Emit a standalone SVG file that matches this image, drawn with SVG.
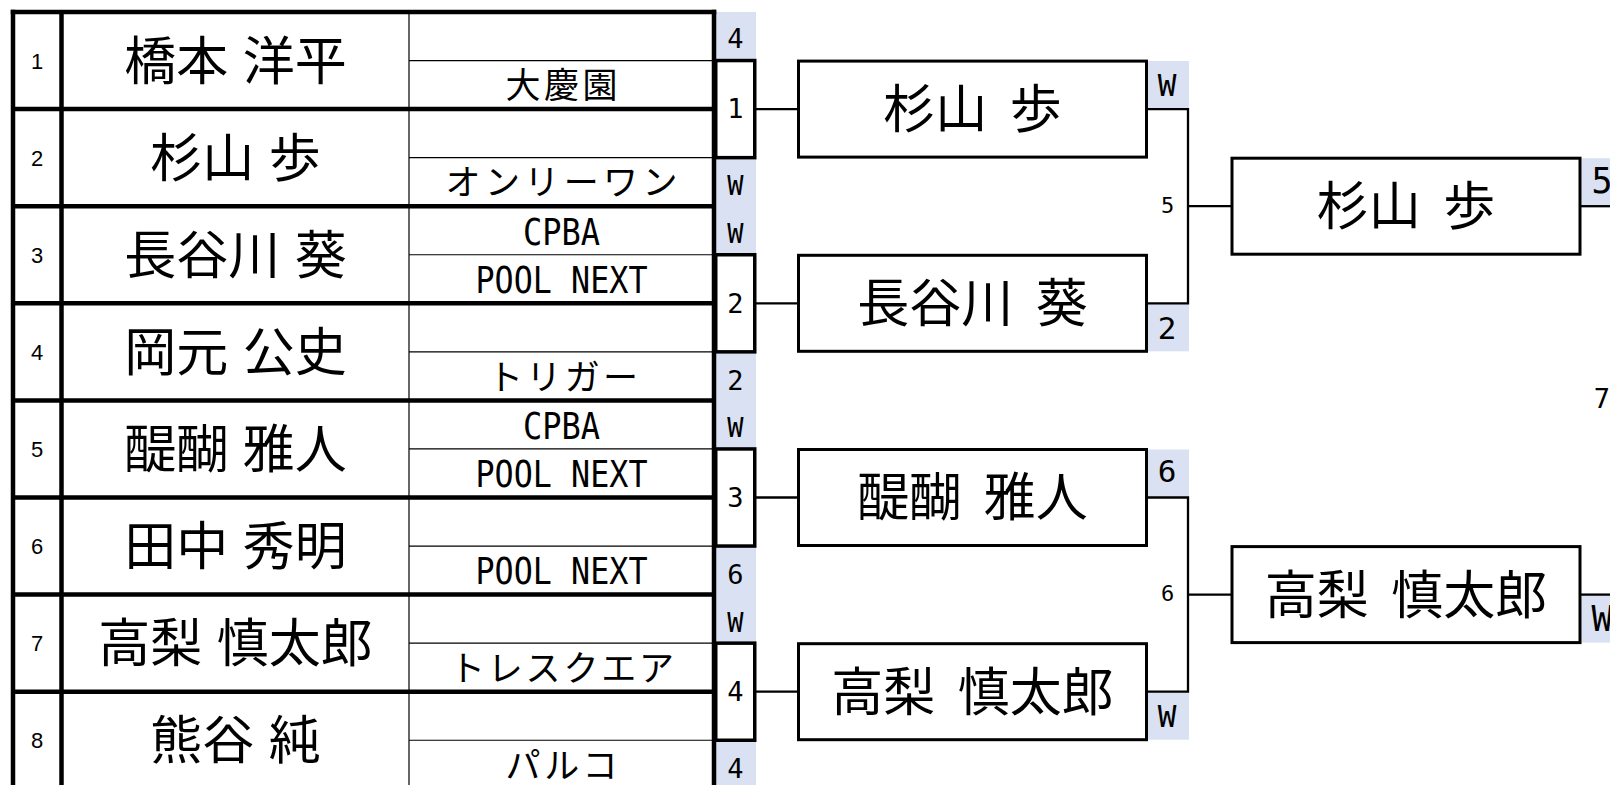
<svg xmlns="http://www.w3.org/2000/svg" width="1610" height="785" viewBox="0 0 1610 785">
<style>
.bg{fill:#ffffff}
.blue{fill:#D9E1F2;stroke:none}
.thick{stroke:#000;stroke-width:4.5;fill:none}
.thin{stroke:#000;stroke-width:1.2;fill:none}
.sbox{fill:#fff;stroke:#000;stroke-width:3.5}
.mbox{fill:#fff;stroke:#000;stroke-width:3}
.conn{stroke:#000;stroke-width:2.3;fill:none}
.num{font-family:"Liberation Sans",Arial,sans-serif;font-size:22px;fill:#000;text-anchor:middle}
.name{font-family:"Noto Sans CJK JP","Noto Sans CJK SC",sans-serif;font-size:52px;fill:#000;text-anchor:middle;word-spacing:3px}
.mname{font-family:"Noto Sans CJK JP","Noto Sans CJK SC",sans-serif;font-size:52px;fill:#000;text-anchor:middle;word-spacing:11px}
.tj{font-family:"Noto Sans CJK JP","Noto Sans CJK SC",sans-serif;font-size:35px;fill:#000;text-anchor:middle}
.tl{font-family:"DejaVu Sans Mono",monospace;font-size:38px;fill:#000;text-anchor:middle}
.sc{font-family:"DejaVu Sans Mono",monospace;font-size:27px;fill:#000;text-anchor:middle}
.sc2{font-family:"DejaVu Sans Mono",monospace;font-size:31px;fill:#000;text-anchor:middle}
.sc3{font-family:"DejaVu Sans Mono",monospace;font-size:35px;fill:#000;text-anchor:middle}
.lab{font-family:"DejaVu Sans Mono",monospace;font-size:22px;fill:#000;text-anchor:middle}
.lab2{font-family:"DejaVu Sans Mono",monospace;font-size:27px;fill:#000;text-anchor:middle}
</style>
<rect class="bg" x="0" y="0" width="1610" height="785"/>

<g id="score-bg">
<rect class="blue" x="716" y="12" width="40" height="48.5"/>
<rect class="blue" x="716" y="157.6" width="40" height="97.1"/>
<rect class="blue" x="716" y="351.8" width="40" height="97.1"/>
<rect class="blue" x="716" y="546" width="40" height="97.1"/>
<rect class="blue" x="716" y="740.2" width="40" height="48.6"/>
<rect class="blue" x="1148" y="61" width="41" height="48"/>
<rect class="blue" x="1148" y="303.3" width="41" height="48"/>
<rect class="blue" x="1148" y="449.5" width="41" height="48"/>
<rect class="blue" x="1148" y="691.7" width="41" height="48"/>
<rect class="blue" x="1581.5" y="158.2" width="29" height="48"/>
<rect class="blue" x="1581.5" y="594.6" width="29" height="48"/>
</g>

<g id="table">
<line class="thin" x1="409" y1="12" x2="409" y2="790"/>
<line class="thin" x1="409" y1="60.55" x2="714" y2="60.55"/>
<line class="thin" x1="409" y1="157.65" x2="714" y2="157.65"/>
<line class="thin" x1="409" y1="254.75" x2="714" y2="254.75"/>
<line class="thin" x1="409" y1="351.85" x2="714" y2="351.85"/>
<line class="thin" x1="409" y1="448.95" x2="714" y2="448.95"/>
<line class="thin" x1="409" y1="546.05" x2="714" y2="546.05"/>
<line class="thin" x1="409" y1="643.15" x2="714" y2="643.15"/>
<line class="thin" x1="409" y1="740.25" x2="714" y2="740.25"/>
<line class="thick" x1="10.75" y1="12" x2="716.25" y2="12"/>
<line class="thick" x1="13" y1="109.1" x2="714" y2="109.1"/>
<line class="thick" x1="13" y1="206.2" x2="714" y2="206.2"/>
<line class="thick" x1="13" y1="303.3" x2="714" y2="303.3"/>
<line class="thick" x1="13" y1="400.4" x2="714" y2="400.4"/>
<line class="thick" x1="13" y1="497.5" x2="714" y2="497.5"/>
<line class="thick" x1="13" y1="594.6" x2="714" y2="594.6"/>
<line class="thick" x1="13" y1="691.7" x2="714" y2="691.7"/>
<line class="thick" x1="13" y1="9.75" x2="13" y2="790"/>
<line class="thick" x1="61.5" y1="12" x2="61.5" y2="790"/>
<line class="thick" x1="714" y1="9.75" x2="714" y2="790"/>
</g>

<g id="entry-1"><text class="num" x="37" y="69">1</text><text class="name" x="235.5" y="79.5">橋本 洋平</text><text class="tj" x="561.5" y="98.2" textLength="112" lengthAdjust="spacing">大慶園</text></g>
<g id="entry-2"><text class="num" x="37" y="166">2</text><text class="name" x="235.5" y="176.6">杉山 歩</text><text class="tj" x="561.5" y="195.3" textLength="232" lengthAdjust="spacing">オンリーワン</text></g>
<g id="entry-3"><text class="num" x="37" y="263">3</text><text class="name" x="235.5" y="273.7">長谷川 葵</text><text class="tl" x="561.5" y="244.5" textLength="77" lengthAdjust="spacingAndGlyphs">CPBA</text><text class="tl" x="561.5" y="293" textLength="172" lengthAdjust="spacingAndGlyphs">POOL NEXT</text></g>
<g id="entry-4"><text class="num" x="37" y="360">4</text><text class="name" x="235.5" y="370.8">岡元 公史</text><text class="tj" x="563" y="389.5" textLength="150" lengthAdjust="spacing">トリガー</text></g>
<g id="entry-5"><text class="num" x="37" y="457">5</text><text class="name" x="235.5" y="467.9">醍醐 雅人</text><text class="tl" x="561.5" y="438.7" textLength="77" lengthAdjust="spacingAndGlyphs">CPBA</text><text class="tl" x="561.5" y="487.2" textLength="172" lengthAdjust="spacingAndGlyphs">POOL NEXT</text></g>
<g id="entry-6"><text class="num" x="37" y="554">6</text><text class="name" x="235.5" y="565">田中 秀明</text><text class="tl" x="561.5" y="584.3" textLength="172" lengthAdjust="spacingAndGlyphs">POOL NEXT</text></g>
<g id="entry-7"><text class="num" x="37" y="651">7</text><text class="name" x="235.5" y="662.1">高梨 慎太郎</text><text class="tj" x="562" y="681" textLength="224" lengthAdjust="spacing">トレスクエア</text></g>
<g id="entry-8"><text class="num" x="37" y="748">8</text><text class="name" x="235.5" y="759.2">熊谷 純</text><text class="tj" x="561.5" y="778" textLength="112" lengthAdjust="spacing">パルコ</text></g>

<g id="connectors">
<line class="conn" x1="756" y1="109.1" x2="798" y2="109.1"/>
<line class="conn" x1="756" y1="303.3" x2="798" y2="303.3"/>
<line class="conn" x1="756" y1="497.5" x2="798" y2="497.5"/>
<line class="conn" x1="756" y1="691.7" x2="798" y2="691.7"/>
<polyline class="conn" points="1147,109.1 1188,109.1 1188,303.3 1147,303.3"/>
<line class="conn" x1="1188" y1="206.2" x2="1232" y2="206.2"/>
<polyline class="conn" points="1147,497.5 1188,497.5 1188,691.7 1147,691.7"/>
<line class="conn" x1="1188" y1="594.6" x2="1232" y2="594.6"/>
<line class="conn" x1="1580" y1="206.2" x2="1610" y2="206.2"/>
<line class="conn" x1="1580" y1="594.6" x2="1610" y2="594.6"/>
<text class="lab" x="1167.5" y="213">5</text>
<text class="lab" x="1167.5" y="600.5">6</text>
<text class="lab2" x="1602" y="408">7</text>
</g>

<g id="r1-scores">
<text class="sc" x="735.5" y="48">4</text>
<text class="sc" x="735.5" y="195">W</text>
<text class="sc" x="735.5" y="243">W</text>
<text class="sc" x="735.5" y="390">2</text>
<text class="sc" x="735.5" y="437">W</text>
<text class="sc" x="735.5" y="584">6</text>
<text class="sc" x="735.5" y="632">W</text>
<text class="sc" x="735.5" y="778">4</text>
</g>

<g id="match-1"><rect class="sbox" x="715.75" y="60.55" width="39" height="97.1"/><text class="sc" x="735.5" y="118">1</text></g>
<g id="match-2"><rect class="sbox" x="715.75" y="254.75" width="39" height="97.1"/><text class="sc" x="735.5" y="313">2</text></g>
<g id="match-3"><rect class="sbox" x="715.75" y="448.95" width="39" height="97.1"/><text class="sc" x="735.5" y="507">3</text></g>
<g id="match-4"><rect class="sbox" x="715.75" y="643.15" width="39" height="97.1"/><text class="sc" x="735.5" y="701">4</text></g>

<g id="semi-1"><rect class="mbox" x="798.5" y="61.1" width="348" height="96"/><text class="mname" x="972.5" y="128">杉山 歩</text><text class="sc2" x="1167" y="96">W</text></g>
<g id="semi-2"><rect class="mbox" x="798.5" y="255.3" width="348" height="96"/><text class="mname" x="972.5" y="322.2">長谷川 葵</text><text class="sc2" x="1167" y="339">2</text></g>
<g id="semi-3"><rect class="mbox" x="798.5" y="449.5" width="348" height="96"/><text class="mname" x="972.5" y="516.4">醍醐 雅人</text><text class="sc2" x="1167" y="482">6</text></g>
<g id="semi-4"><rect class="mbox" x="798.5" y="643.7" width="348" height="96"/><text class="mname" x="972.5" y="710.6">高梨 慎太郎</text><text class="sc2" x="1167" y="727">W</text></g>

<g id="final-1"><rect class="mbox" x="1232" y="158.2" width="348" height="96"/><text class="mname" x="1406" y="225.1">杉山 歩</text><text class="sc3" x="1602" y="193">5</text></g>
<g id="final-2"><rect class="mbox" x="1232" y="546.6" width="348" height="96"/><text class="mname" x="1406" y="613.5">高梨 慎太郎</text><text class="sc3" x="1602" y="631">W</text></g>
</svg>
